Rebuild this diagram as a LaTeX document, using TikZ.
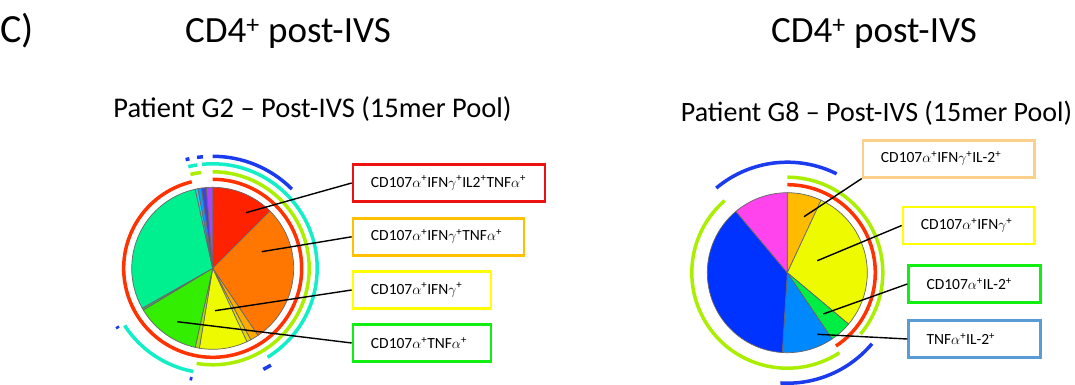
\documentclass[tikz,border=0pt]{standalone}
\usepackage{fontspec}
\setmainfont{Carlito}

\newcommand{\Rone}{81}
\newcommand{\Rtwo}{80}
\newcommand{\pos}{\textsuperscript{+}}

\definecolor{sRed}{HTML}{FF2200}
\definecolor{sOrange}{HTML}{FF7700}
\definecolor{sGold}{HTML}{FFAA00}
\definecolor{sPale}{HTML}{E6D600}
\definecolor{sYellow}{HTML}{EEFA00}
\definecolor{sChart}{HTML}{AADD00}
\definecolor{sGreen}{HTML}{33EE00}
\definecolor{sDark}{HTML}{44AA66}
\definecolor{sMint}{HTML}{00F090}
\definecolor{sCyan}{HTML}{22CCEE}
\definecolor{sAzure}{HTML}{1199FF}
\definecolor{sIndigo}{HTML}{4444CC}
\definecolor{sPurple}{HTML}{AA44FF}
\definecolor{tGold}{HTML}{FFBB00}
\definecolor{tGreen}{HTML}{00EE44}
\definecolor{tAzure}{HTML}{0088FF}
\definecolor{tBlue}{HTML}{0033FF}
\definecolor{tMagenta}{HTML}{FF44EE}
\definecolor{rRed}{HTML}{FF3300}
\definecolor{rChart}{HTML}{AAEE00}
\definecolor{rCyan}{HTML}{11EEC8}
\definecolor{rBlue}{HTML}{1A3BEE}
\definecolor{bRed}{HTML}{EE1111}
\definecolor{bOrange}{HTML}{FFC000}
\definecolor{bYellow}{HTML}{FFFF00}
\definecolor{bGreen}{HTML}{11EE11}
\definecolor{bPeach}{HTML}{FAD08A}
\definecolor{bBlue}{HTML}{5B9BD5}

\tikzset{slice/.style={draw=black!60,line width=0.7pt},
  ring/.style={line width=3.5pt},
  legbox/.style={draw,line width=2.5pt,minimum height=37pt,inner xsep=18pt,anchor=west,align=left,font=\fontsize{15.5}{18}\selectfont},
  leader/.style={line width=1.4pt}}

\begin{document}
\begin{tikzpicture}[x=1pt,y=1pt]
    \useasboundingbox (0,0) rectangle (1075,385);
    % titles
    \node[anchor=base west,inner sep=0pt,font=\fontsize{40}{44}\selectfont] (lbl) at (0,342) {C)};
    \node[anchor=base,font=\fontsize{37}{40}\selectfont] (ttl1) at (288,342) {CD4\pos{} post-IVS};
    \node[anchor=base,font=\fontsize{37}{40}\selectfont] (ttl2) at (874,342) {CD4\pos{} post-IVS};
    \node[anchor=base,font=\fontsize{28.5}{31}\selectfont] (sub1) at (312.5,267) {Patient G2 -- Post-IVS (15mer Pool)};
    \node[anchor=base,font=\fontsize{28}{31}\selectfont] (sub2) at (876.5,263) {Patient G8 -- Post-IVS (15mer Pool)};

    % first pie
    \coordinate (c1) at (212.7,116.7);
    \foreach \a/\b/\c in {90/45/sRed, 45/-56/sOrange, -56/-62/sGold, -62/-65/sPale, -65/-99.5/sYellow,
      -99.5/-102.5/sChart, -102.5/-149/sGreen, -149/-150.5/sDark, -150.5/-257.5/sMint,
      102.5/100.5/sCyan, 100.5/98/sAzure, 98/94.5/sIndigo, 94.5/90/sPurple}
    \filldraw[slice,fill=\c] (c1) -- ++(\a:\Rone) arc[start angle=\a,end angle=\b,radius=\Rone] -- cycle;
    % rings round the first pie
    \foreach \a/\b/\r/\c in {103.6/450/89/rRed, 90/-99.6/96.5/rChart, 103.3/97/96.5/rChart,
      96/-58.3/104.5/rCyan, 103.5/98.5/104.5/rCyan, -100.7/-147/105/rCyan,
      90/45/112/rBlue, 98/95/112/rBlue, 104/102/112/rBlue, -59/-63.4/113/rBlue,
      -100.4/-101.8/112.5/rBlue, -147.5/-148.8/112/rBlue}
    \draw[ring,\c] ([shift={(\a:\r)}]c1) arc[start angle=\a,end angle=\b,radius=\r];

    % second pie
    \coordinate (c2) at (787.3,112.3);
    \foreach \a/\b/\c in {90/65/tGold, 65/-40/sYellow, -40/-56/tGreen, -56/-93.6/tAzure,
      -93.6/-230/tBlue, -230/-270/tMagenta}
    \filldraw[slice,fill=\c] (c2) -- ++(\a:\Rtwo) arc[start angle=\a,end angle=\b,radius=\Rtwo] -- cycle;
    % rings round the second pie
    \foreach \a/\b/\r/\c in {90/-56.4/88/rRed, 90/-40/95.5/rChart, -57/-229/95.5/rChart,
      130/63.5/110.5/rBlue, -40/-93.6/110.5/rBlue}
    \draw[ring,\c] ([shift={(\a:\r)}]c2) arc[start angle=\a,end angle=\b,radius=\r];

    % legend boxes, first pie
    \node[legbox,draw=bRed,text width=156pt] (ga) at (351.7,202) {CD107$\alpha$\pos IFN$\gamma$\pos IL2\pos TNF$\alpha$\pos};
    \node[legbox,draw=bOrange,text width=135pt] (gb) at (351.7,148.2) {CD107$\alpha$\pos IFN$\gamma$\pos TNF$\alpha$\pos};
    \node[legbox,draw=bYellow,text width=102pt] (gc) at (351.7,95) {CD107$\alpha$\pos IFN$\gamma$\pos};
    \node[legbox,draw=bGreen,text width=102pt] (gd) at (351.7,42) {CD107$\alpha$\pos TNF$\alpha$\pos};
    \coordinate (pa) at (246,172.3);
    \coordinate (pb) at (261.7,133.3);
    \coordinate (pc) at (215,74.3);
    \coordinate (pd) at (177.3,63.3);
    \draw[leader] (ga.west) -- (pa);
    \draw[leader] (gb.west) -- (pb);
    \draw[leader] (gc.west) -- (pc);
    \draw[leader] (gd.west) -- (pd);

    % legend boxes, second pie
    \node[legbox,draw=bPeach,text width=135.6pt] (ha) at (861.7,226.2) {CD107$\alpha$\pos IFN$\gamma$\pos IL-2\pos};
    \node[legbox,draw=bYellow,text width=95.6pt] (hb) at (901.7,159.5) {CD107$\alpha$\pos IFN$\gamma$\pos};
    \node[legbox,draw=bGreen,text width=95.7pt] (hc) at (907.3,101) {CD107$\alpha$\pos IL-2\pos};
    \node[legbox,draw=bBlue,text width=95.7pt] (hd) at (907.3,46) {TNF$\alpha$\pos IL-2\pos};
    \coordinate (qa) at (804,168.3);
    \coordinate (qb) at (817.3,124.3);
    \coordinate (qc) at (823.3,71);
    \coordinate (qd) at (817.3,50.7);
    \draw[leader] (ha.south west) -- (qa);
    \draw[leader] (hb.west) -- (qb);
    \draw[leader] (hc.west) -- (qc);
    \draw[leader] (hd.west) -- (qd);
\end{tikzpicture}
\end{document}
